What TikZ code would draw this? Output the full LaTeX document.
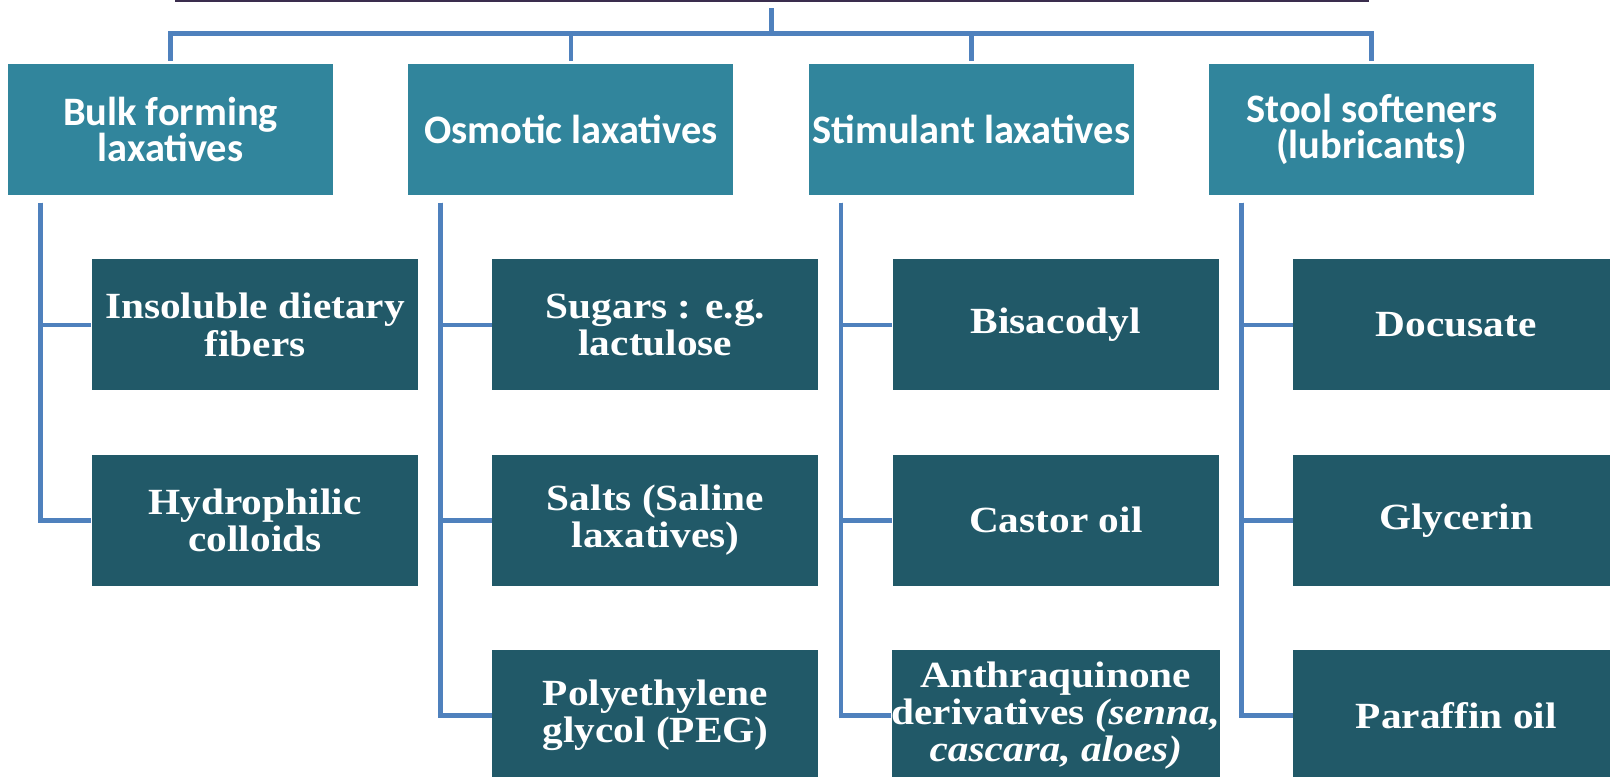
\documentclass[tikz,border=0pt]{standalone}
\usepackage{fontspec}
\setmainfont{Liberation Serif}
\newfontfamily\headfont{Carlito}
\newfontfamily\drugfont[FakeStretch=1.12]{Liberation Serif}
\usetikzlibrary{positioning}
\definecolor{headteal}{HTML}{31859C}
\definecolor{drugteal}{HTML}{215968}
\definecolor{linkblue}{HTML}{4F81BD}
\definecolor{rootdark}{HTML}{3A2D4D}

\begin{document}
\begin{tikzpicture}[
    node distance=0.63cm and 0.74cm,
    root/.style={rectangle, draw=rootdark, line width=0.05cm, fill=white, minimum width=11.89cm, minimum height=1cm},
    group/.style={rectangle, fill=headteal, text=white, inner sep=0pt, minimum width=3.25cm, minimum height=1.31cm, align=center, font=\headfont\bfseries\fontsize{11.5}{10.3}\selectfont},
    drug/.style={rectangle, fill=drugteal, text=white, inner sep=0pt, minimum width=3.26cm, minimum height=1.31cm, align=center, font=\drugfont\bfseries\fontsize{10.5}{9.4}\selectfont},
    link/.style={draw=linkblue, line width=0.045cm}
]
\useasboundingbox (0,0) rectangle (16.1,-7.77);
\clip (0,0) rectangle (16.1,-7.77);

% Root box, only its lower edge shows
\node (root) [root, anchor=south] at (7.715,-0.025) {};
\coordinate [below=0.31cm of root.south] (bus);

% Classes
\node (bulk) [group] at (1.705,-1.295) {Bulk forming\\laxatives};
\node (osmotic) [group, right=of bulk] {Osmotic laxatives};
\node (stimulant) [group, right=of osmotic] {Stimulant laxatives};
\node (stool) [group, right=of stimulant] {Stool softeners\\(lubricants)};

% Bulk forming
\node (insoluble) [drug, below right=0.63cm and 0.84cm of bulk.south west] {Insoluble dietary\\fibers};
\node (hydrophilic) [drug, below=of insoluble] {Hydrophilic\\colloids};

% Osmotic
\node (sugars) [drug, below right=0.63cm and 0.84cm of osmotic.south west] {Sugars : e.g.\\lactulose};
\node (salts) [drug, below=of sugars] {Salts (Saline\\laxatives)};
\node (peg) [drug, below=of salts] {Polyethylene\\glycol (PEG)};

% Stimulant
\node (bisacodyl) [drug, below right=0.63cm and 0.84cm of stimulant.south west] {Bisacodyl};
\node (castor) [drug, below=of bisacodyl] {Castor oil};
\node (anthra) [drug, below=of castor] {Anthraquinone\\derivatives \textit{(senna,}\\\textit{cascara, aloes)}};

% Stool softeners
\node (docusate) [drug, below right=0.63cm and 0.84cm of stool.south west] {Docusate};
\node (glycerin) [drug, below=of docusate] {Glycerin};
\node (paraffin) [drug, below=of glycerin] {Paraffin oil};

% Root to classes
\draw [link] ([yshift=-0.06cm]root.south) -- (bus);
\draw [link, shorten >=0.02cm] (bus) -| (bulk.north);
\draw [link, shorten >=0.02cm] (bus) -| (osmotic.north);
\draw [link, shorten >=0.02cm] (bus) -| (stimulant.north);
\draw [link, shorten >=0.02cm] (bus) -| (stool.north);

% Classes to drugs
\draw [link] ([xshift=0.33cm, yshift=-0.07cm]bulk.south west) |- (insoluble.west);
\draw [link] ([xshift=0.33cm, yshift=-0.07cm]bulk.south west) |- (hydrophilic.west);
\draw [link] ([xshift=0.33cm, yshift=-0.07cm]osmotic.south west) |- (sugars.west);
\draw [link] ([xshift=0.33cm, yshift=-0.07cm]osmotic.south west) |- (salts.west);
\draw [link] ([xshift=0.33cm, yshift=-0.07cm]osmotic.south west) |- (peg.west);
\draw [link] ([xshift=0.33cm, yshift=-0.07cm]stimulant.south west) |- (bisacodyl.west);
\draw [link] ([xshift=0.33cm, yshift=-0.07cm]stimulant.south west) |- (castor.west);
\draw [link] ([xshift=0.33cm, yshift=-0.07cm]stimulant.south west) |- (anthra.west);
\draw [link] ([xshift=0.33cm, yshift=-0.07cm]stool.south west) |- (docusate.west);
\draw [link] ([xshift=0.33cm, yshift=-0.07cm]stool.south west) |- (glycerin.west);
\draw [link] ([xshift=0.33cm, yshift=-0.07cm]stool.south west) |- (paraffin.west);

\end{tikzpicture}
\end{document}
